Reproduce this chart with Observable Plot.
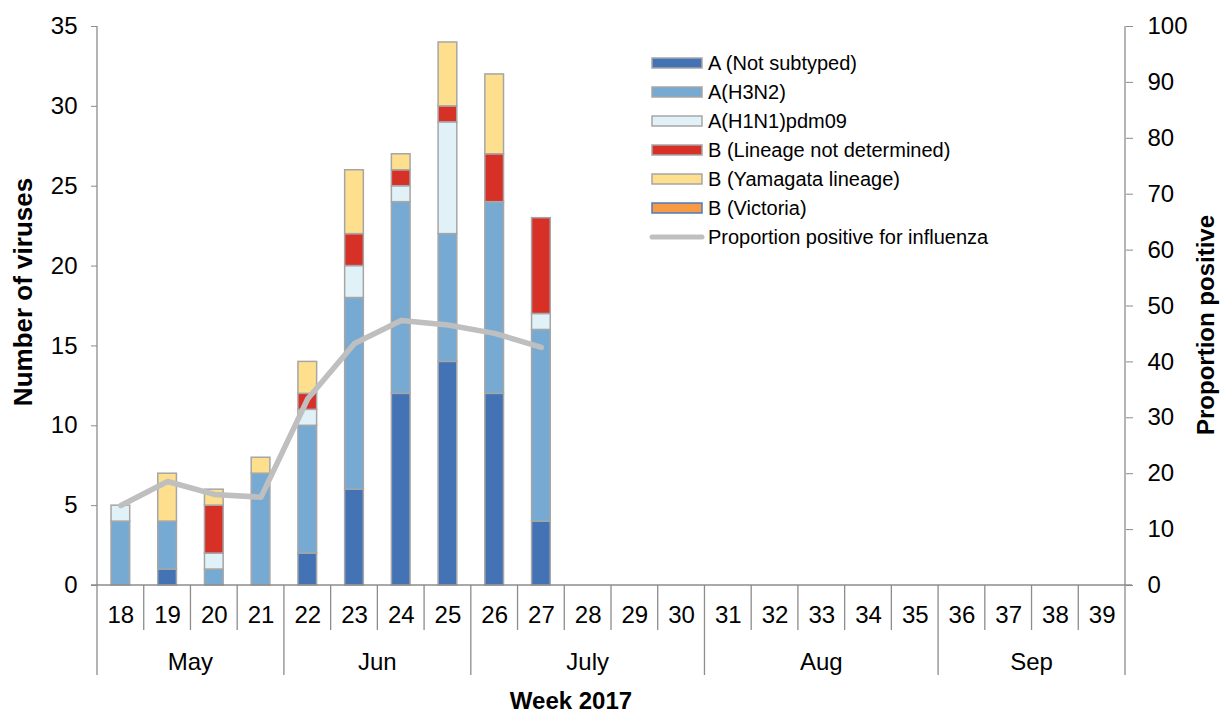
<!DOCTYPE html>
<html><head><meta charset="utf-8">
<script src="https://cdn.jsdelivr.net/npm/d3@7"></script>
<script src="https://cdn.jsdelivr.net/npm/@observablehq/plot@0.6"></script>
<style>
body{margin:0;background:#fff;}
svg{font-family:"Liberation Sans",Arial,sans-serif;}
</style>
</head><body><div id="chart"></div>
<script>
// ---- data ----
const weeks = [18,19,20,21,22,23,24,25,26,27,28,29,30,31,32,33,34,35,36,37,38,39];
const dataWeeks = [18,19,20,21,22,23,24,25,26,27];
const seriesNames = ["A (Not subtyped)","A(H3N2)","A(H1N1)pdm09","B (Lineage not determined)","B (Yamagata lineage)","B (Victoria)"];
const seriesColors = ["#4473b5","#77aad2","#e0f1f8","#d73127","#fedf8e","#f79a43"];
const notSubtyped = [0,1,0,0,2,6,12,14,12,4];
const h3n2        = [4,3,1,7,8,12,12,8,12,12];
const h1n1        = [1,0,1,0,1,2,1,7,0,1];
const bNotDet     = [0,0,3,0,1,2,1,1,3,6];
const yamagata    = [0,3,1,1,2,4,1,4,5,0];
const victoria    = [0,0,0,0,0,0,0,0,0,0];
const proportion  = [14.3,18.6,16.3,15.8,33.4,43.3,47.4,46.6,45.1,42.6];
const lineName = "Proportion positive for influenza";
const monthNames = ["May","Jun","July","Aug","Sep"];
const monthFirstWeek = [18,22,26,31,36];
const monthLastWeek  = [21,25,30,35,39];
const countTicks = [0,5,10,15,20,25,30,35];
const proportionTicks = [0,10,20,30,40,50,60,70,80,90,100];
const countMax = 35, propMax = 100;

const seriesValues = [notSubtyped,h3n2,h1n1,bNotDet,yamagata,victoria];
const rows = [];
dataWeeks.forEach((w,i)=>seriesNames.forEach((s,j)=>{
  const v = seriesValues[j][i];
  if (v > 0) rows.push({week:w, series:s, count:v});
}));
const propRows = dataWeeks.map((w,i)=>({week:w, p:proportion[i]}));
const toCount = p => p*countMax/propMax;

const AXIS = "#8c8c8c";
const chart = Plot.plot({
  width:1221, height:716,
  marginLeft:97, marginRight:96, marginTop:26, marginBottom:131,
  style:{fontFamily:"Liberation Sans, Arial, sans-serif", fontSize:"24px", color:"#000", background:"#fff"},
  x:{type:"band", domain:weeks, paddingInner:0.6, paddingOuter:0.3, round:false},
  y:{domain:[0,countMax]},
  color:{domain:seriesNames, range:seriesColors},
  marks:[
    Plot.axisY(countTicks, {anchor:"left", tickSize:6, tickPadding:14, label:null, stroke:AXIS}),
    Plot.axisY(proportionTicks.map(toCount), {anchor:"right", tickSize:7, tickPadding:15, label:null, stroke:AXIS,
      tickFormat:d=>String(Math.round(d*propMax/countMax))}),
    Plot.axisX(weeks, {anchor:"bottom", tickSize:0, tickPadding:20, label:null}),
    Plot.barY(rows, {x:"week", y:"count", fill:"series", order:seriesNames, stroke:"#a6a6a6", strokeWidth:1.5}),
    Plot.lineY(propRows, {x:"week", y:d=>toCount(d.p), stroke:"#bfbfbf", strokeWidth:5.5})
  ]
});
document.getElementById("chart").appendChild(chart);

// ---- category axis structure, titles and legend, positioned from Plot's scales ----
const svg = d3.select(chart);
const xs = chart.scale("x"), ys = chart.scale("y");
const step = xs.step, gap = (xs.step - xs.bandwidth)/2;
const left = w => xs.apply(w) - gap;
const y0 = ys.apply(0), yTop = ys.apply(countMax);
const xL = left(weeks[0]), xR = left(weeks[weeks.length-1]) + step;
const g = svg.append("g").attr("stroke", AXIS).attr("stroke-width", 1.3);
g.append("line").attr("x1", xL).attr("x2", xL).attr("y1", yTop).attr("y2", y0 + 90);
g.append("line").attr("x1", xR).attr("x2", xR).attr("y1", yTop).attr("y2", y0 + 90);
g.append("line").attr("x1", xL - 6).attr("x2", xR + 7).attr("y1", y0).attr("y2", y0);
weeks.slice(1).forEach(w => {
  if (monthFirstWeek.includes(w)) return;
  g.append("line").attr("x1", left(w)).attr("x2", left(w)).attr("y1", y0).attr("y2", y0 + 45);
});
monthFirstWeek.slice(1).forEach(w => {
  g.append("line").attr("x1", left(w)).attr("x2", left(w)).attr("y1", y0).attr("y2", y0 + 90);
});
const t = svg.append("g").attr("fill", "#000").attr("font-size", 24).attr("text-anchor", "middle");
monthNames.forEach((m, i) => {
  const cx = (left(monthFirstWeek[i]) + left(monthLastWeek[i]) + step) / 2;
  t.append("text").attr("x", cx).attr("y", y0 + 76).attr("dominant-baseline", "central").text(m);
});
t.append("text").attr("x", 571).attr("y", 700).attr("dominant-baseline", "central")
  .attr("font-size", 24).attr("font-weight", "bold").text("Week 2017");
t.append("text").attr("transform", "translate(23,292) rotate(-90)").attr("dominant-baseline", "central")
  .attr("font-size", 26).attr("font-weight", "bold").text("Number of viruses");
t.append("text").attr("transform", "translate(1205,325) rotate(-90)").attr("dominant-baseline", "central")
  .attr("font-size", 24).attr("font-weight", "bold").text("Proportion positive");

const lg = svg.append("g").attr("font-size", 20).attr("text-anchor", "start").attr("fill", "#000");
seriesNames.forEach((s, i) => {
  const cy = 63 + 29 * i;
  lg.append("rect").attr("x", 652).attr("y", cy - 5).attr("width", 50).attr("height", 10)
    .attr("fill", seriesColors[i]).attr("stroke", s === "B (Victoria)" ? "#4a7ebb" : "#a6a6a6").attr("stroke-width", 1.5);
  lg.append("text").attr("x", 708).attr("y", cy).attr("dominant-baseline", "central").text(s);
});
{
  const cy = 63 + 29 * seriesNames.length;
  lg.append("line").attr("x1", 652).attr("x2", 702).attr("y1", cy).attr("y2", cy)
    .attr("stroke", "#bfbfbf").attr("stroke-width", 5).attr("stroke-linecap", "round");
  lg.append("text").attr("x", 708).attr("y", cy).attr("dominant-baseline", "central").text(lineName);
}
</script>
</body></html>
